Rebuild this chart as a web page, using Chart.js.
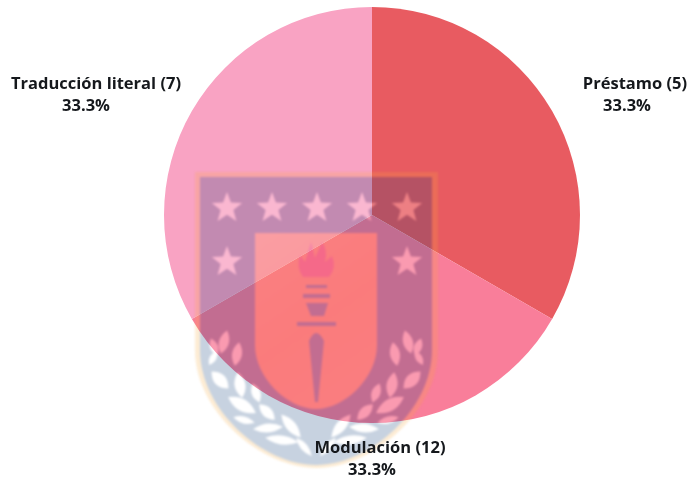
<!DOCTYPE html>
<html>
<head>
<meta charset="utf-8">
<style>
	html, body { margin: 0; padding: 0; background: #fff; }
	#wrap { width: 689px; height: 478px; }
</style>
<script src="https://cdn.jsdelivr.net/npm/chart.js@4"></script>
</head>
<body>
<div id="wrap"><canvas id="chart" width="689" height="478"></canvas></div>
<script>
const categories = ['Préstamo (5)', 'Modulación (12)', 'Traducción literal (7)'];
const shares = [33.3, 33.3, 33.3];
const shareLabels = ['33.3%', '33.3%', '33.3%'];
const colors = ['#E85B61', '#F97E9A', '#F9A3C3'];

// Label anchors, relative to the pie centre
const labelDx = [255, 0, -286];
const labelDy = [-120, 244, -120];
const firstLineShift = [8, 8, 10];

const NAVY = '#003272';
const GOLD = '#F5AA3C';

// [x from the shield axis, y, length, width, angle]
const leaves = [
	[-92, 342, 24, 10, -75], [-102, 347, 18, 8, -110], [-79, 354, 24, 10, -80], [-103, 358, 16, 7, -60],
	[-96, 380, 24, 12, 45], [-76, 385, 26, 11, 80], [-60, 393, 20, 9, 70],
	[-74, 405, 32, 12, 30], [-49, 412, 22, 10, 45],
	[-72, 420, 22, 7, 15], [-48, 428, 30, 9, -5],
	[-25, 426, 30, 10, 50], [-34, 440, 34, 9, 8], [-12, 447, 24, 7, 50]
];

function star(c, x, y, r) {
	c.beginPath();
	for (let i = 0; i < 10; i++) {
		const rad = i % 2 ? r * 0.42 : r;
		const a = -Math.PI / 2 + i * Math.PI / 5;
		c.lineTo(x + rad * Math.cos(a), y + rad * Math.sin(a));
	}
	c.closePath();
	c.fill();
}

function leaf(c, x, y, len, w, angle) {
	c.save();
	c.translate(x, y);
	c.rotate(angle * Math.PI / 180);
	c.beginPath();
	c.moveTo(-len / 2, 0);
	c.quadraticCurveTo(0, -w, len / 2, 0);
	c.quadraticCurveTo(0, w, -len / 2, 0);
	c.fill();
	c.restore();
}

function shieldPath(c, l, r, top, bodyEnd, bottom) {
	const mid = (l + r) / 2;
	const cy = bodyEnd + (bottom - bodyEnd) * 0.52;
	const cx = (r - l) * 0.23;
	c.beginPath();
	c.moveTo(l, top);
	c.lineTo(r, top);
	c.lineTo(r, bodyEnd);
	c.bezierCurveTo(r, cy, mid + cx, bottom, mid, bottom);
	c.bezierCurveTo(mid - cx, bottom, l, cy, l, bodyEnd);
	c.closePath();
}

// University crest, kept on its own canvas so it is faded as a single image
function buildCrest() {
	const off = document.createElement('canvas');
	off.width = 689;
	off.height = 478;
	const c = off.getContext('2d');
	const axis = 316;

	c.fillStyle = GOLD;
	shieldPath(c, 195, 438, 172, 350, 468);
	c.fill();
	c.fillStyle = NAVY;
	shieldPath(c, 200, 432, 177, 350, 465);
	c.fill();

	c.fillStyle = '#fff';
	[227, 272, 317, 362, 407].forEach(x => star(c, x, 208, 16));
	star(c, 227, 262, 16);
	star(c, 407, 262, 16);

	leaves.forEach(([dx, y, len, w, angle]) => {
		leaf(c, axis + dx, y, len, w, angle);
		leaf(c, axis - dx, y, len, w, 180 - angle);
	});

	const inner = c.createLinearGradient(255, 233, 377, 409);
	inner.addColorStop(0, '#FF8A30');
	inner.addColorStop(0.5, '#FF7414');
	inner.addColorStop(1, '#FF8028');
	c.fillStyle = inner;
	shieldPath(c, 255, 377, 233, 345, 409);
	c.fill();

	// flame
	c.fillStyle = '#E6204E';
	c.beginPath();
	c.moveTo(303, 277);
	c.quadraticCurveTo(296, 268, 300, 255);
	c.lineTo(305, 262);
	c.lineTo(311, 242);
	c.lineTo(315, 258);
	c.lineTo(322, 242);
	c.quadraticCurveTo(328, 250, 325, 262);
	c.lineTo(332, 256);
	c.quadraticCurveTo(337, 268, 329, 277);
	c.closePath();
	c.fill();

	// torch
	c.fillStyle = NAVY;
	c.fillRect(306, 285, 21, 3);
	c.fillRect(303, 294, 27, 4);
	c.beginPath();
	c.moveTo(306, 303);
	c.lineTo(328, 303);
	c.lineTo(324, 316);
	c.lineTo(311, 316);
	c.closePath();
	c.fill();
	c.fillRect(297, 322, 39, 4);
	c.beginPath();
	c.moveTo(309, 341);
	c.quadraticCurveTo(316, 325, 324, 341);
	c.lineTo(318, 402);
	c.lineTo(315, 402);
	c.closePath();
	c.fill();
	return off;
}

const crest = buildCrest();

const crestPlugin = {
	id: 'crest',
	afterDatasetsDraw(chart) {
		const ctx = chart.ctx;
		ctx.save();
		ctx.globalAlpha = 0.22;
		ctx.filter = 'blur(0.8px)';
		ctx.drawImage(crest, 0, 0);
		ctx.restore();
	}
};

/* Two-line labels around the pie */
const labelsPlugin = {
	id: 'sliceLabels',
	afterDraw(chart) {
		const ctx = chart.ctx;
		const arcs = chart.getDatasetMeta(0).data;
		ctx.save();
		ctx.textAlign = 'center';
		ctx.textBaseline = 'middle';
		ctx.fillStyle = '#15181c';
		ctx.font = 'bold 16.5px "Open Sans"';
		arcs.forEach((arc, i) => {
			const x = arc.x + labelDx[i];
			const y = arc.y + labelDy[i];
			ctx.fillText(categories[i], x + firstLineShift[i], y - 11);
			ctx.fillText(shareLabels[i], x, y + 11);
		});
		ctx.restore();
	}
};

new Chart(document.getElementById('chart').getContext('2d'), {
	type: 'pie',
	data: {
		labels: categories,
		datasets: [{
			data: shares,
			backgroundColor: colors,
			borderWidth: 0
		}]
	},
	options: {
		responsive: false,
		animation: false,
		layout: { padding: { left: 164, right: 109, top: 7, bottom: 55 } },
		plugins: {
			legend: { display: false },
			tooltip: { enabled: false },
			title: { display: false }
		}
	},
	plugins: [crestPlugin, labelsPlugin]
});
</script>
</body>
</html>
